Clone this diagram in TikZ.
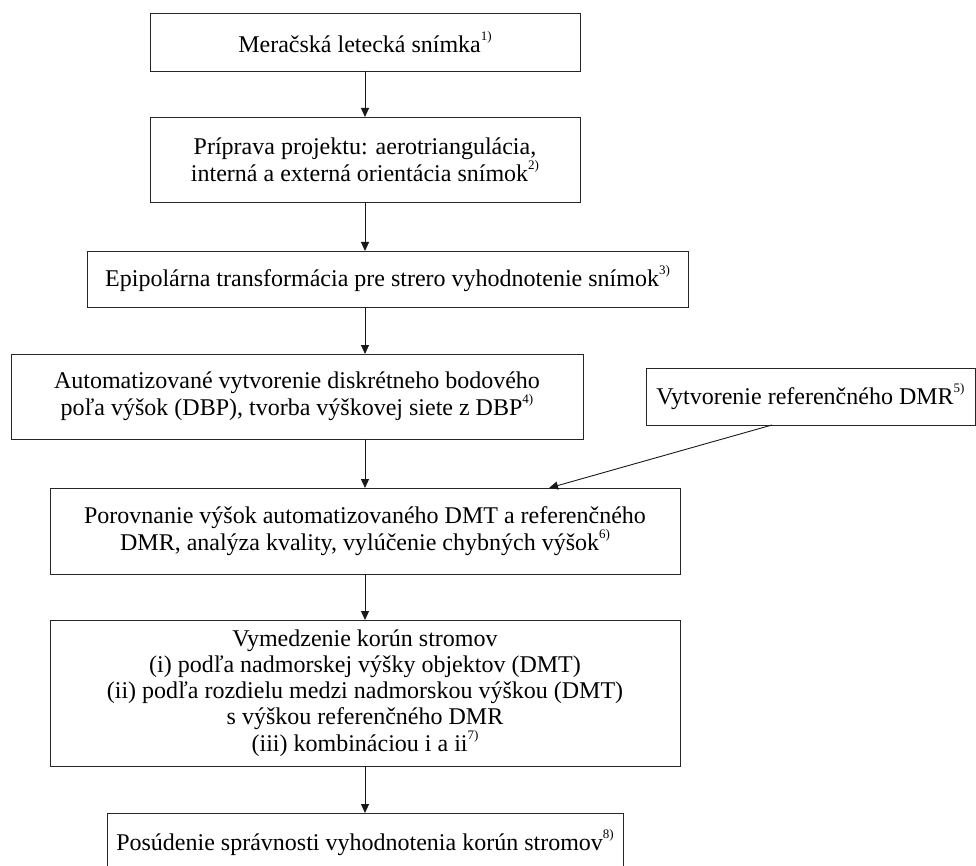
\documentclass[tikz,border=0pt]{standalone}
\usepackage{fontspec}
\setmainfont{Liberation Serif}
\usetikzlibrary{arrows.meta}
\newcommand{\fn}[1]{\raisebox{0.5em}{\fontsize{13}{13}\selectfont #1}}
\begin{document}
\begin{tikzpicture}[x=1pt,y=-1pt,
  every node/.style={inner sep=0pt, outer sep=0pt},
  box/.style={draw=black!85, line width=0.9pt, fill=white, align=center,
    font=\fontsize{24}{26}\selectfont},
  arr/.style={draw=black!90, line width=0.9pt, -{Triangle[length=9pt,width=8pt]}}]
\useasboundingbox (0,0) rectangle (976,866);
\node[box, minimum width=430, minimum height=58] (b1) at (365,42) {Meračská letecká snímka\fn{1)}};
\node[box, minimum width=430, minimum height=85] (b2) at (365,159.5) {Príprava projektu: aerotriangulácia,\\interná a externá orientácia snímok\fn{2)}};
\node[box, minimum width=601, minimum height=56] (b3) at (387.5,279) {Epipolárna transformácia pre strero vyhodnotenie snímok\fn{3)}};
\node[box, minimum width=572, minimum height=85] (b4) at (297,396.5) {Automatizované vytvorenie diskrétneho bodového\\poľa výšok (DBP), tvorba výškovej siete z DBP\fn{4)}};
\node[box, minimum width=329, minimum height=57] (bref) at (810.5,396.5) {Vytvorenie referenčného DMR\fn{5)}};
\node[box, minimum width=630, minimum height=86] (b5) at (365,531) {Porovnanie výšok automatizovaného DMT a referenčného\\DMR, analýza kvality, vylúčenie chybných výšok\fn{6)}};
\node[box, minimum width=630, minimum height=146] (b6) at (365,693) {Vymedzenie korún stromov\\(i) podľa nadmorskej výšky objektov (DMT)\\(ii) podľa rozdielu medzi nadmorskou výškou (DMT)\\s výškou referenčného DMR\\(iii) kombináciou i a ii\fn{7)}};
\node[box, minimum width=516, minimum height=60] (b7) at (365,843) {Posúdenie správnosti vyhodnotenia korún stromov\fn{8)}};
\coordinate (ax) at (365,0);
\draw[arr] (ax |- b1.south) -- (ax |- b2.north);
\draw[arr] (ax |- b2.south) -- (ax |- b3.north);
\draw[arr] (ax |- b3.south) -- (ax |- b4.north);
\draw[arr] (ax |- b4.south) -- (ax |- b5.north);
\draw[arr] (ax |- b5.south) -- (ax |- b6.north);
\draw[arr] (ax |- b6.south) -- (ax |- b7.north);
\draw[arr] ([xshift=-38.5pt]bref.south) -- ([xshift=184pt]b5.north);
\end{tikzpicture}
\end{document}
